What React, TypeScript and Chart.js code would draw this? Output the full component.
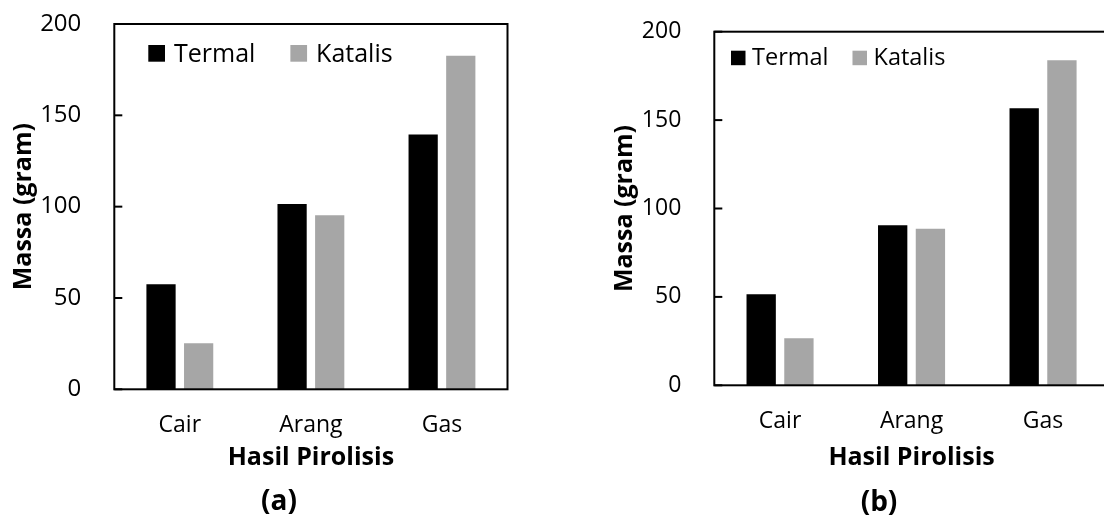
import React, { useEffect, useRef } from "react";
import { Chart, registerables } from "chart.js";

Chart.register(...registerables);

// ---------- data ----------
const categories = ["Cair", "Arang", "Gas"];
const seriesNames = ["Termal", "Katalis"];
const termalA = [57.5, 101.5, 139.5];
const katalisA = [25.2, 95.3, 182.6];
const termalB = [51.5, 90.5, 156.7];
const katalisB = [26.6, 88.6, 183.8];
const yTicks = [0, 50, 100, 150, 200];
const panelLabels = ["(a)", "(b)"];
const yTitle = "Massa (gram)";
const xTitle = "Hasil Pirolisis";

// ---------- styles / layout ----------
const FONT = "'Open Sans', 'Noto Sans', sans-serif";
const COLORS = ["#000000", "#A6A6A6"];

type Layout = {
  left: number;
  width: number;
  height: number;
  yAxisWidth: number;
  padTop: number;
  padRight: number;
  padBottom: number;
  xAxisHeight: number;
  xTickPad: number;
  xTitlePadBottom: number;
  yTitlePadTop: number;
  yTickFont: number;
  xTickFont: number;
  legend: { dx: number; dy: number; box: number; font: number; gap: number; spacing: number };
  caption: { cx: number; baseline: number; font: number };
};

const layoutA: Layout = {
  left: 0,
  width: 552,
  height: 516,
  yAxisWidth: 114.3,
  padTop: 24,
  padRight: 44.5,
  padBottom: 30,
  xAxisHeight: 96.7,
  xTickPad: 14.5,
  xTitlePadBottom: 13.5,
  yTitlePadTop: 9,
  yTickFont: 24,
  xTickFont: 23,
  legend: { dx: 34, dy: 21, box: 16.7, font: 25, gap: 9, spacing: 35 },
  caption: { cx: 279, baseline: 510, font: 28 },
};

const layoutB: Layout = {
  left: 600,
  width: 558,
  height: 516,
  yAxisWidth: 114.3,
  padTop: 31.7,
  padRight: 49.2,
  padBottom: 30,
  xAxisHeight: 100.7,
  xTickPad: 14.5,
  xTitlePadBottom: 12.7,
  yTitlePadTop: 10,
  yTickFont: 23,
  xTickFont: 23,
  legend: { dx: 16.7, dy: 19, box: 14.5, font: 23.5, gap: 6.5, spacing: 24 },
  caption: { cx: 279, baseline: 511, font: 28 },
};

const framePlugin = {
  id: "frame",
  afterDatasetsDraw(chart: any, _args: any, opts: any) {
    const { ctx, chartArea } = chart;
    const { left, right, top, bottom } = chartArea;
    const y = chart.scales.y;
    ctx.save();
    ctx.strokeStyle = "#000";
    ctx.lineWidth = 2;
    ctx.strokeRect(left, top, right - left, bottom - top);
    y.ticks.forEach((t: any) => {
      const py = y.getPixelForValue(t.value);
      ctx.beginPath();
      ctx.moveTo(left, py);
      ctx.lineTo(left + 8, py);
      ctx.stroke();
    });
    // legend inside plot area
    const lg = opts.legend;
    ctx.font = `${lg.font}px ${FONT}`;
    ctx.textBaseline = "alphabetic";
    ctx.textAlign = "left";
    let x = left + lg.dx;
    const yTop = top + lg.dy;
    chart.data.datasets.forEach((ds: any) => {
      ctx.fillStyle = ds.backgroundColor;
      ctx.fillRect(x, yTop, lg.box, lg.box);
      ctx.fillStyle = "#000";
      const tx = x + lg.box + lg.gap;
      ctx.fillText(ds.label, tx, yTop + lg.box);
      x = tx + ctx.measureText(ds.label).width + lg.spacing;
    });
    // panel caption
    const cp = opts.caption;
    ctx.font = `bold ${cp.font}px ${FONT}`;
    ctx.textAlign = "center";
    ctx.fillStyle = "#000";
    ctx.fillText(opts.label, cp.cx, cp.baseline);
    ctx.restore();
  },
};

function Panel({ termal, katalis, label, L }: { termal: number[]; katalis: number[]; label: string; L: Layout }) {
  const ref = useRef<HTMLCanvasElement>(null);
  useEffect(() => {
    if (!ref.current) return;
    const chart = new Chart(ref.current, {
      type: "bar",
      data: {
        labels: categories,
        datasets: [
          { label: seriesNames[0], data: termal, backgroundColor: COLORS[0], borderWidth: 0 },
          { label: seriesNames[1], data: katalis, backgroundColor: COLORS[1], borderWidth: 0 },
        ],
      },
      plugins: [framePlugin as any],
      options: {
        responsive: false,
        animation: false,
        events: [],
        datasets: { bar: { categoryPercentage: 0.574, barPercentage: 0.777 } },
        layout: { padding: { left: 0, top: L.padTop, right: L.padRight, bottom: L.padBottom } },
        plugins: {
          legend: { display: false },
          tooltip: { enabled: false },
          title: { display: false },
          frame: { legend: L.legend, caption: L.caption, label },
        } as any,
        scales: {
          x: {
            grid: { display: false },
            border: { display: false },
            ticks: { color: "#000", padding: L.xTickPad, font: { family: FONT, size: L.xTickFont }, maxRotation: 0 },
            title: {
              display: true,
              text: xTitle,
              color: "#000",
              font: { family: FONT, size: 25, weight: "bold" },
              padding: { top: 0, bottom: L.xTitlePadBottom },
            },
            afterFit: (s: any) => {
              s.height = L.xAxisHeight;
              s.paddingLeft = 0;
              s.paddingRight = 0;
            },
          },
          y: {
            min: 0,
            max: 200,
            grid: { display: false },
            border: { display: false },
            afterBuildTicks: (s: any) => {
              s.ticks = yTicks.map((v) => ({ value: v }));
            },
            ticks: { color: "#000", padding: 25, font: { family: FONT, size: L.yTickFont } },
            title: {
              display: true,
              text: yTitle,
              color: "#000",
              font: { family: FONT, size: 25, weight: "bold" },
              padding: { top: L.yTitlePadTop, bottom: 0 },
            },
            afterFit: (s: any) => {
              s.width = L.yAxisWidth;
              s.paddingTop = 0;
              s.paddingBottom = 0;
            },
          },
        },
      },
    });
    return () => chart.destroy();
  }, [termal, katalis, label, L]);
  return (
    <canvas
      ref={ref}
      width={L.width}
      height={L.height}
      style={{ position: "absolute", left: L.left, top: 0, width: L.width, height: L.height }}
    />
  );
}

export default function App() {
  return (
    <div
      style={{
        position: "fixed",
        left: 0,
        top: 0,
        width: 1104,
        height: 516,
        overflow: "hidden",
        background: "#fff",
      }}
    >
      <Panel termal={termalA} katalis={katalisA} label={panelLabels[0]} L={layoutA} />
      <Panel termal={termalB} katalis={katalisB} label={panelLabels[1]} L={layoutB} />
    </div>
  );
}
